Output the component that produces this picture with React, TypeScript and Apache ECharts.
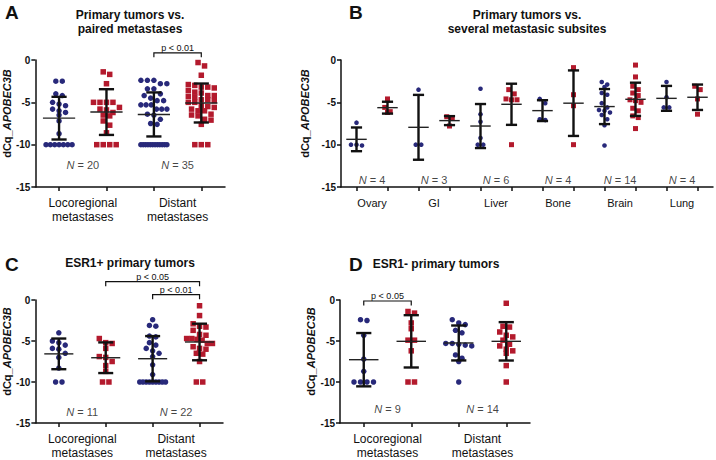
import React, { useEffect, useRef } from 'react';
import * as echarts from 'echarts';

const FONT = '"Liberation Sans", Arial, Helvetica, sans-serif';
const NAVY = '#28297A';
const RED = '#B31A2D';
const INK = '#111111';

// ---------------- Panel A : primary tumors vs. paired metastases
const aSites = ['Locoregional\nmetastases', 'Distant\nmetastases'];
const aN = [20, 35];
const aLocoPrimary = [-2.5, -2.5, -4.0, -4.2, -5.0, -5.2, -5.4, -5.8, -6.0, -6.2, -6.5, -7.2, -8.7, -10, -10, -10, -10, -10, -10, -10];
const aLocoMet = [-1.4, -1.7, -2.8, -5.0, -5.0, -5.0, -5.0, -5.6, -5.8, -5.9, -6.2, -6.5, -6.6, -7.2, -7.7, -8.6, -10, -10, -10, -10];
const aDistPrimary = [-2.4, -2.4, -2.4, -2.8, -2.8, -3.4, -3.4, -4.0, -4.2, -4.5, -4.8, -4.8, -5.3, -5.3, -5.3, -5.8, -5.8, -5.8, -6.4, -6.5, -7.0, -7.5, -7.6, -10, -10, -10, -10, -10, -10, -10, -10, -10, -10, -10, -10];
const aDistMet = [-0.3, -0.7, -1.8, -2.9, -3.0, -3.2, -3.2, -3.3, -3.6, -3.8, -3.9, -4.2, -4.2, -4.3, -4.4, -4.7, -4.7, -4.8, -5.0, -5.0, -5.4, -5.5, -5.6, -5.8, -6.0, -6.0, -6.4, -6.5, -6.6, -7.0, -7.1, -7.6, -10, -10, -10];
const aMean = [-6.87, -6.15, -6.43, -5.08];
const aSD = [2.52, 2.7, 2.6, 2.3];
const aPairs = [[2, 3]];
const aPText = ['p < 0.01'];

// ---------------- Panel B : several metastatic subsites
const bSites = ['Ovary', 'GI', 'Liver', 'Bone', 'Brain', 'Lung'];
const bN = [4, 3, 6, 4, 14, 4];
const bOvaryPrimary = [-7.4, -10.0, -10.1, -10.0];
const bOvaryMet = [-4.6, -5.6, -6.1, -6.2];
const bGIPrimary = [-3.5, -10.0, -10.0];
const bGIMet = [-6.7, -6.9, -7.8];
const bLiverPrimary = [-3.4, -6.4, -7.3, -9.2, -10.0, -10.0];
const bLiverMet = [-3.5, -4.0, -4.6, -4.7, -4.7, -10.0];
const bBonePrimary = [-4.6, -5.1, -7.0, -7.1];
const bBoneMet = [-0.9, -4.1, -5.4, -10.0];
const bBrainPrimary = [-2.6, -2.9, -3.2, -3.9, -4.1, -5.1, -5.6, -5.9, -6.0, -6.2, -6.5, -7.0, -7.7, -10.1];
const bBrainMet = [-0.6, -2.0, -3.1, -3.5, -3.9, -4.2, -4.7, -4.8, -5.0, -5.7, -6.0, -6.6, -6.8, -8.1];
const bLungPrimary = [-2.6, -4.4, -5.6, -5.6];
const bLungMet = [-3.1, -3.5, -4.6, -6.4];
const bMean = [-9.37, -5.63, -7.95, -7.16, -7.8, -5.23, -5.98, -5.1, -5.5, -4.64, -4.53, -4.4];
const bSD = [1.4, 0.7, 3.83, 0.53, 2.6, 2.43, 1.23, 3.87, 2.07, 1.96, 1.47, 1.5];

// ---------------- Panel C : ESR1+ primary tumors
const cSites = ['Locoregional\nmetastases', 'Distant\nmetastases'];
const cN = [11, 22];
const cLocoPrimary = [-4.0, -5.0, -5.2, -5.5, -5.9, -6.0, -6.5, -7.0, -8.3, -10, -10];
const cLocoMet = [-4.7, -5.2, -5.3, -5.9, -6.9, -7.0, -7.5, -8.0, -8.7, -10, -10];
const cDistPrimary = [-2.4, -3.1, -3.2, -4.4, -4.5, -5.2, -5.5, -5.9, -6.2, -6.5, -6.9, -7.9, -9.1, -10, -10, -10, -10, -10, -10, -10, -10, -10];
const cDistMet = [-0.7, -1.9, -2.9, -3.2, -3.3, -3.7, -4.2, -4.3, -4.7, -4.7, -4.8, -4.9, -5.3, -5.3, -5.7, -5.9, -6.0, -6.5, -6.6, -7.5, -10, -10];
const cMean = [-6.57, -7.04, -7.16, -5.12];
const cSD = [1.87, 1.87, 2.76, 2.23];
const cPairs = [[1, 3], [2, 3]];
const cPText = ['p < 0.05', 'p < 0.01'];

// ---------------- Panel D : ESR1- primary tumors
const dSites = ['Locoregional\nmetastases', 'Distant\nmetastases'];
const dN = [9, 14];
const dLocoPrimary = [-2.5, -2.4, -4.3, -7.2, -8.7, -10, -10, -10, -10];
const dLocoMet = [-1.4, -1.6, -2.8, -3.5, -4.9, -4.9, -6.2, -10, -10];
const dDistPrimary = [-2.4, -2.8, -3.0, -3.7, -4.0, -5.3, -5.3, -5.4, -5.5, -5.6, -6.7, -7.1, -7.5, -10];
const dDistMet = [-0.4, -3.2, -3.3, -3.9, -4.3, -4.5, -4.9, -5.4, -5.6, -6.0, -6.2, -6.5, -8.0, -10];
const dMean = [-7.28, -5.04, -5.24, -5.04];
const dSD = [3.25, 3.19, 2.13, 2.34];
const dPairs = [[0, 1]];
const dPText = ['p < 0.05'];

const yTicksMin = -15;
const yTicksMax = 0;
const yTickStep = 5;

// layout of each panel
const panels = [
  {
    letter: 'A', letterX: 5, letterY: 12, title: 'Primary tumors vs.\npaired metastases', titleX: 130, titleY: 8,
    left: 35, top: 60, width: 190, height: 127,
    groups: [aLocoPrimary, aLocoMet, aDistPrimary, aDistMet], means: aMean, sds: aSD,
    sites: aSites, ns: aN, nY: -12.4, pairs: aPairs, ptext: aPText, pLevels: [0.85],
    siteFont: 12, dot: 5.5, sq: 5.5, spacing: 6.5, spread: 0.55, capFrac: 0.16, meanFrac: 0.34,
  },
  {
    letter: 'B', letterX: 349, letterY: 12, title: 'Primary tumors vs.\nseveral metastasic subsites', titleX: 527, titleY: 8,
    left: 341, top: 60, width: 372, height: 127,
    groups: [bOvaryPrimary, bOvaryMet, bGIPrimary, bGIMet, bLiverPrimary, bLiverMet, bBonePrimary, bBoneMet, bBrainPrimary, bBrainMet, bLungPrimary, bLungMet],
    means: bMean, sds: bSD,
    sites: bSites, ns: bN, nY: -14.2, pairs: [] as number[][], ptext: [] as string[], pLevels: [] as number[],
    siteFont: 11, dot: 4.6, sq: 5, spacing: 5.5, spread: 0.6, capFrac: 0.18, meanFrac: 0.33,
  },
  {
    letter: 'C', letterX: 5, letterY: 264, title: 'ESR1+ primary tumors', titleX: 130, titleY: 256,
    left: 33, top: 300, width: 190, height: 127,
    groups: [cLocoPrimary, cLocoMet, cDistPrimary, cDistMet], means: cMean, sds: cSD,
    sites: cSites, ns: cN, nY: -13.6, pairs: cPairs, ptext: cPText, pLevels: [2.24, 0.65],
    siteFont: 12, dot: 5.5, sq: 5.5, spacing: 6.5, spread: 0.55, capFrac: 0.16, meanFrac: 0.31,
  },
  {
    letter: 'D', letterX: 349, letterY: 264, title: 'ESR1- primary tumors', titleX: 436, titleY: 257,
    left: 340, top: 300, width: 190, height: 127,
    groups: [dLocoPrimary, dLocoMet, dDistPrimary, dDistMet], means: dMean, sds: dSD,
    sites: dSites, ns: dN, nY: -13.3, pairs: dPairs, ptext: dPText, pLevels: [-0.12],
    siteFont: 12, dot: 5.5, sq: 5.5, spacing: 6.5, spread: 0.55, capFrac: 0.16, meanFrac: 0.31,
  },
];

// deterministic "scatter dot plot" spreading: rows of near-equal values are fanned out horizontally
function swarm(vals: number[], pxPerUnitY: number, bandPx: number, spacing: number, maxSpreadPx: number, binPx: number) {
  const order = vals.map((_, i) => i).sort((a, b) => vals[b] - vals[a]);
  const out = new Array(vals.length).fill(0);
  let i = 0;
  while (i < order.length) {
    const start = vals[order[i]];
    const bin = [order[i]];
    i++;
    while (i < order.length && (start - vals[order[i]]) * pxPerUnitY < binPx) {
      bin.push(order[i]);
      i++;
    }
    const k = bin.length;
    const sp = k > 1 ? Math.min(spacing, maxSpreadPx / (k - 1)) : 0;
    bin.forEach((j, n) => {
      out[j] = ((n - (k - 1) / 2) * sp) / bandPx;
    });
  }
  return out;
}

function buildOption() {
  const grid: any[] = [];
  const xAxis: any[] = [];
  const yAxis: any[] = [];
  const series: any[] = [];
  const graphic: any[] = [];

  panels.forEach((p, i) => {
    const nG = p.groups.length;
    const band = p.width / nG;
    const pxY = p.height / (yTicksMax - yTicksMin);
    grid.push({ left: p.left, top: p.top, width: p.width, height: p.height });
    xAxis.push({ type: 'value', gridIndex: i, min: -0.5, max: nG - 0.5, show: false, position: 'bottom' });
    xAxis.push({
      type: 'category', gridIndex: i, position: 'bottom', boundaryGap: true,
      data: p.groups.map((_, k) => String(k)),
      axisLine: { show: true, onZero: false, lineStyle: { color: INK, width: 1.5 } },
      axisTick: { show: true, alignWithLabel: true, length: 4, lineStyle: { color: INK, width: 1.5 } },
      axisLabel: { show: false }, splitLine: { show: false },
    });
    xAxis.push({
      type: 'category', gridIndex: i, position: 'bottom', boundaryGap: true, data: p.sites,
      axisLine: { show: false, onZero: false }, axisTick: { show: false }, splitLine: { show: false },
      axisLabel: { show: true, interval: 0, fontFamily: FONT, fontSize: p.siteFont, color: INK, margin: 9, lineHeight: 14 },
    });
    yAxis.push({
      type: 'value', gridIndex: i, min: yTicksMin, max: yTicksMax, interval: yTickStep, position: 'left',
      axisLine: { show: true, onZero: false, lineStyle: { color: INK, width: 1.5 } },
      axisTick: { show: true, length: 4, lineStyle: { color: INK, width: 1.5 } },
      axisLabel: { fontFamily: FONT, fontSize: 10, fontWeight: 'bold', color: INK, margin: 5 },
      splitLine: { show: false },
      name: '{a|dCq_}{b|APOBEC3B}', nameLocation: 'middle', nameRotate: 90, nameGap: 19,
      nameTextStyle: {
        padding: [0, 0, 0, 20],
        rich: {
          a: { fontFamily: FONT, fontSize: 11, fontWeight: 'bold', color: INK },
          b: { fontFamily: FONT, fontSize: 11, fontWeight: 'bold', fontStyle: 'italic', color: INK },
        },
      },
    });

    p.groups.forEach((vals, k) => {
      const isPrim = k % 2 === 0;
      const offs = swarm(vals, pxY, band, p.spacing, p.spread * band, p.dot);
      series.push({
        type: 'scatter', xAxisIndex: 3 * i, yAxisIndex: i, silent: true, z: 2,
        symbol: isPrim ? 'circle' : 'rect', symbolSize: isPrim ? p.dot : p.sq,
        itemStyle: { color: isPrim ? NAVY : RED, opacity: 1 },
        data: vals.map((v, j) => [k + offs[j], v]),
      });
    });

    const capFrac = p.capFrac;
    const meanFrac = p.meanFrac;
    series.push({
      type: 'custom', xAxisIndex: 3 * i, yAxisIndex: i, silent: true, z: 5, clip: false,
      data: p.means.map((m, k) => [k, m, p.sds[k]]),
      renderItem: (params: any, api: any) => {
        const x = api.value(0);
        const m = api.value(1);
        const s = api.value(2);
        const c = api.coord([x, m]);
        const hi = api.coord([x, m + s]);
        const lo = api.coord([x, m - s]);
        const u = api.size([1, 0])[0];
        const cw = u * capFrac;
        const mw = u * meanFrac;
        const st = { stroke: '#111', lineWidth: 2.4 };
        return {
          type: 'group',
          children: [
            { type: 'line', shape: { x1: c[0], y1: hi[1], x2: c[0], y2: lo[1] }, style: st },
            { type: 'line', shape: { x1: c[0] - cw, y1: hi[1], x2: c[0] + cw, y2: hi[1] }, style: st },
            { type: 'line', shape: { x1: c[0] - cw, y1: lo[1], x2: c[0] + cw, y2: lo[1] }, style: st },
            { type: 'line', shape: { x1: c[0] - mw, y1: c[1], x2: c[0] + mw, y2: c[1] }, style: { stroke: '#222', lineWidth: 1.4 } },
          ],
        };
      },
    });

    if (p.pairs.length) {
      const texts = p.ptext;
      series.push({
        type: 'custom', xAxisIndex: 3 * i, yAxisIndex: i, silent: true, z: 6, clip: false,
        data: p.pairs.map((pr, k) => [pr[0], pr[1], p.pLevels[k]]),
        renderItem: (params: any, api: any) => {
          const a = api.coord([api.value(0), api.value(2)]);
          const b = api.coord([api.value(1), api.value(2)]);
          const leg = 4.5;
          return {
            type: 'group',
            children: [
              {
                type: 'polyline',
                shape: { points: [[a[0], a[1] + leg], [a[0], a[1]], [b[0], b[1]], [b[0], b[1] + leg]] },
                style: { stroke: INK, lineWidth: 1.2, fill: null },
              },
              {
                type: 'text',
                style: {
                  text: texts[params.dataIndex], x: (a[0] + b[0]) / 2, y: a[1] - 0.5,
                  textAlign: 'center', textVerticalAlign: 'bottom', align: 'center', verticalAlign: 'bottom',
                  fontFamily: FONT, fontSize: 9, fill: INK,
                },
              },
            ],
          };
        },
      });
    }

    series.push({
      type: 'scatter', xAxisIndex: 3 * i, yAxisIndex: i, silent: true, z: 3,
      symbolSize: 1, itemStyle: { color: 'rgba(0,0,0,0)' },
      data: p.ns.map((n, k) => [2 * k + 0.5, p.nY, n]),
      label: {
        show: true, position: 'inside', color: INK, fontFamily: FONT, fontSize: 11, textBorderWidth: 0,
        formatter: (pr: any) => `{i|N} = ${pr.value[2]}`,
        rich: { i: { fontStyle: 'italic', fontFamily: FONT, fontSize: 11, color: INK, textBorderWidth: 0 } },
      },
    });

    graphic.push({
      type: 'text', x: p.letterX, y: p.letterY, silent: true,
      style: { text: p.letter, fontFamily: FONT, fontSize: 19, fontWeight: 'bold', fill: '#111', textAlign: 'left', textVerticalAlign: 'middle', align: 'left', verticalAlign: 'middle' },
    });
    graphic.push({
      type: 'text', x: p.titleX, y: p.titleY, silent: true,
      style: { text: p.title, fontFamily: FONT, fontSize: 12, fontWeight: 'bold', fill: '#111', lineHeight: 14, textAlign: 'center', textVerticalAlign: 'top', align: 'center', verticalAlign: 'top' },
    });
  });

  return { animation: false, backgroundColor: '#ffffff', grid, xAxis, yAxis, series, graphic };
}

export default function App() {
  const ref = useRef<HTMLDivElement>(null);
  useEffect(() => {
    document.body.style.margin = '0';
    if (!ref.current) return;
    const chart = echarts.init(ref.current, null, { renderer: 'svg' });
    chart.setOption(buildOption() as any);
    return () => chart.dispose();
  }, []);
  return <div ref={ref} style={{ width: 716, height: 460 }} />;
}
